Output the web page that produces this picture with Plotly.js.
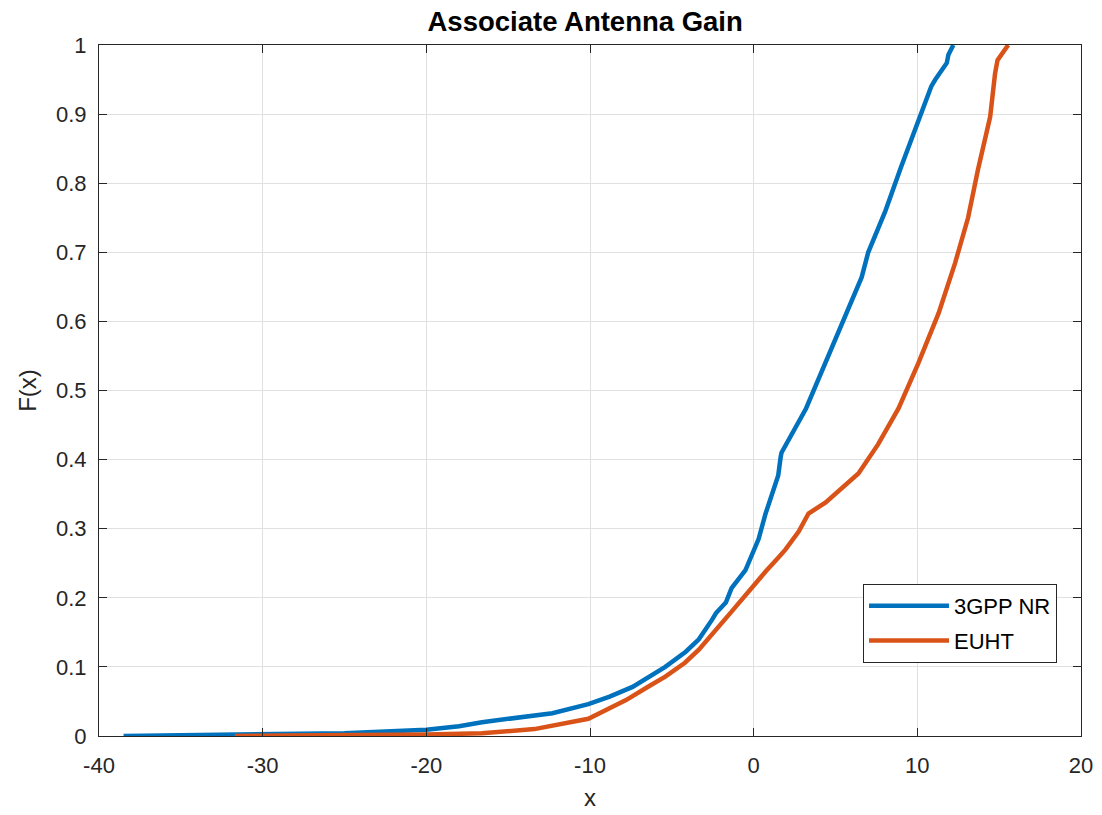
<!DOCTYPE html>
<html>
<head>
<meta charset="utf-8">
<script src="https://cdn.plot.ly/plotly-3.0.1.min.js"></script>
<style>html,body{margin:0;padding:0;background:#fff;}#chart{width:1102px;height:815px;}</style>
</head>
<body>
<div id="chart"></div>
<script>
const nrX = [-38.5, -30, -25, -20, -18, -16.6, -14, -12.3, -10.1, -8.8, -7.4, -6.4, -5.4, -4.15, -3.35, -2.55, -2.3, -1.7, -1.35, -0.5, -0.1, 0.3, 0.73, 1.5, 1.65, 1.7, 3.2, 3.96, 4.15, 5.2, 6.6, 7.0, 8.05, 9.0, 10.05, 10.85, 11.1, 11.8, 11.9, 12.2];
const nrF = [0, 0.002, 0.004, 0.009, 0.014, 0.02, 0.027, 0.033, 0.046, 0.057, 0.071, 0.085, 0.1, 0.122, 0.14, 0.168, 0.178, 0.193, 0.214, 0.24, 0.263, 0.285, 0.322, 0.377, 0.404, 0.41, 0.474, 0.517, 0.529, 0.587, 0.664, 0.70, 0.76, 0.823, 0.887, 0.94, 0.95, 0.974, 0.986, 1.0];
const euX = [-31.7, -25, -20, -16.6, -13.4, -10.1, -7.8, -6.4, -5.4, -4.2, -3.35, -1.35, -0.1, 0.73, 1.5, 1.95, 2.75, 3.2, 3.35, 4.4, 6.4, 7.6, 8.85, 10.05, 11.3, 12.3, 13.1, 13.7, 14.45, 14.75, 14.9, 15.55];
const euF = [0, 0.001, 0.002, 0.004, 0.01, 0.025, 0.052, 0.072, 0.086, 0.106, 0.125, 0.18, 0.216, 0.238, 0.258, 0.27, 0.296, 0.314, 0.322, 0.338, 0.38, 0.422, 0.474, 0.539, 0.612, 0.684, 0.75, 0.819, 0.896, 0.959, 0.978, 1.0];
const seriesNames = ['3GPP NR', 'EUHT'];
const xTicks = [-40, -30, -20, -10, 0, 10, 20];
const yTicks = [0, 0.1, 0.2, 0.3, 0.4, 0.5, 0.6, 0.7, 0.8, 0.9, 1];
const yTickText = ['0', '0.1', '0.2', '0.3', '0.4', '0.5', '0.6', '0.7', '0.8', '0.9', '1'];

const font = 'Liberation Sans, Arial, sans-serif';
const axisCommon = {
  showline: true, mirror: 'ticks', linecolor: '#262626', linewidth: 1,
  ticks: 'inside', ticklen: 8, tickcolor: '#262626', tickwidth: 1,
  showgrid: true, gridcolor: '#e0e0e0', gridwidth: 1, zeroline: false,
  tickfont: {family: font, size: 22, color: '#262626'}
};
const traces = [
  {x: nrX, y: nrF, name: seriesNames[0], legendgroup: 'a', type: 'scatter', mode: 'lines', line: {color: '#0072BD', width: 4.5}},
  {x: euX, y: euF, name: seriesNames[1], legendgroup: 'b', type: 'scatter', mode: 'lines', line: {color: '#D95319', width: 4.5}}
];
const layout = {
  width: 1102, height: 815,
  margin: {l: 99, r: 21, t: 45, b: 79},
  paper_bgcolor: '#fff', plot_bgcolor: '#fff',
  title: {text: '<b>Associate Antenna Gain</b>', font: {family: font, size: 27.5, color: '#000'}, x: 0.531, xanchor: 'center', y: 0.985, yanchor: 'top'},
  xaxis: Object.assign({}, axisCommon, {range: [-40, 20], tickvals: xTicks, ticktext: xTicks.map(String), ticklabelstandoff: 10,
    title: {text: 'x', font: {family: font, size: 24, color: '#262626'}, standoff: 11}}),
  yaxis: Object.assign({}, axisCommon, {range: [0, 1], tickvals: yTicks, ticktext: yTickText, ticklabelstandoff: 7,
    title: {text: 'F(x)', font: {family: font, size: 24, color: '#262626'}, standoff: 12}}),
  showlegend: true,
  legend: {x: 0.778, y: 0.22, xanchor: 'left', yanchor: 'top', bgcolor: '#fff', bordercolor: '#262626', borderwidth: 1,
    font: {family: font, size: 22, color: '#000'}, traceorder: 'grouped', tracegroupgap: 3, itemwidth: 80}
};
Plotly.newPlot('chart', traces, layout, {displayModeBar: false, staticPlot: true});
</script>
</body>
</html>
